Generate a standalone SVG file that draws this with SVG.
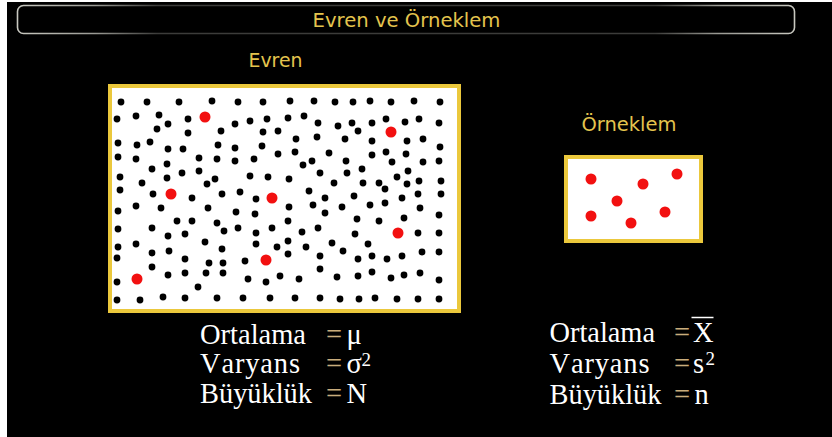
<svg xmlns="http://www.w3.org/2000/svg" xmlns:xlink="http://www.w3.org/1999/xlink" width="832" height="437" viewBox="0 0 832 437">
<style>
.gold{font-family:"DejaVu Sans",sans-serif;font-size:20px;fill:#e4c44e}
.stat{font-family:"Liberation Serif",serif;font-size:28.5px;fill:#ffffff;font-kerning:none}
.eq{font-family:"Liberation Serif",serif;font-size:28.5px;fill:#c9ad7c}
.sup{font-family:"Liberation Serif",serif;font-size:19px;fill:#ffffff}
.box{fill:#ffffff;stroke:#ebc83c;stroke-width:4}
</style>
<defs>
<circle id="bd" cx="0" cy="0" r="3.4" fill="#000000"/>
<circle id="rd" cx="0" cy="0" r="5.5" fill="#f21010"/>
<linearGradient id="fr" gradientUnits="userSpaceOnUse" x1="17" y1="0" x2="795" y2="0">
<stop offset="0" stop-color="#c8c8c0"/>
<stop offset="0.1" stop-color="#9a9a94"/>
<stop offset="0.18" stop-color="#3c3c3a"/>
<stop offset="0.82" stop-color="#3c3c3a"/>
<stop offset="0.9" stop-color="#9a9a94"/>
<stop offset="1" stop-color="#c8c8c0"/>
</linearGradient>
</defs>
<rect x="0" y="0" width="832" height="437" fill="#ffffff"/>
<rect x="7" y="2" width="825" height="435" fill="#000000"/>

<g id="title">
<rect x="17.5" y="5.5" width="777" height="28" rx="6" fill="none" stroke="url(#fr)" stroke-width="1.6"/>
<text class="gold" x="312.5" y="26.5" textLength="188" lengthAdjust="spacingAndGlyphs">Evren ve Örneklem</text>
</g>

<g id="evren-label">
<text class="gold" x="248.5" y="66.5" textLength="54" lengthAdjust="spacingAndGlyphs">Evren</text>
</g>

<g id="evren-box">
<rect class="box" x="110" y="86" width="349" height="225"/>
<g id="evren-dots">
<use href="#bd" x="121" y="102"/><use href="#bd" x="147" y="102"/><use href="#bd" x="179" y="102"/><use href="#bd" x="212" y="101"/><use href="#bd" x="238" y="102"/><use href="#bd" x="263" y="102"/>
<use href="#bd" x="117" y="119"/><use href="#bd" x="136" y="116"/><use href="#bd" x="159" y="115"/><use href="#bd" x="188" y="119"/><use href="#bd" x="168" y="124"/><use href="#bd" x="157" y="129"/><use href="#bd" x="235" y="124"/><use href="#bd" x="250" y="121"/><use href="#bd" x="267" y="119"/><use href="#bd" x="278" y="131"/><use href="#bd" x="221" y="131"/><use href="#bd" x="188" y="133"/><use href="#bd" x="263" y="132"/>
<use href="#bd" x="118" y="143"/><use href="#bd" x="137" y="145"/><use href="#bd" x="150" y="142"/><use href="#bd" x="168" y="149"/><use href="#bd" x="183" y="149"/><use href="#bd" x="218" y="145"/><use href="#bd" x="235" y="148"/><use href="#bd" x="262" y="146"/><use href="#bd" x="278" y="154"/>
<use href="#bd" x="118" y="157"/><use href="#bd" x="136" y="159"/><use href="#bd" x="199" y="158"/><use href="#bd" x="217" y="159"/><use href="#bd" x="235" y="161"/><use href="#bd" x="254" y="159"/>
<use href="#bd" x="152" y="169"/><use href="#bd" x="167" y="164"/><use href="#bd" x="182" y="173"/><use href="#bd" x="199" y="171"/>
<use href="#bd" x="120" y="177"/><use href="#bd" x="142" y="183"/><use href="#bd" x="167" y="178"/><use href="#bd" x="215" y="179"/><use href="#bd" x="207" y="184"/><use href="#bd" x="250" y="176"/><use href="#bd" x="268" y="177"/>
<use href="#bd" x="120" y="190"/><use href="#bd" x="153" y="194"/><use href="#bd" x="192" y="198"/><use href="#bd" x="222" y="194"/><use href="#bd" x="240" y="192"/><use href="#bd" x="256" y="199"/>
<use href="#bd" x="290" y="101"/><use href="#bd" x="314" y="101"/><use href="#bd" x="335" y="102"/><use href="#bd" x="353" y="102"/><use href="#bd" x="370" y="101"/><use href="#bd" x="391" y="102"/><use href="#bd" x="414" y="101"/><use href="#bd" x="440" y="102"/>
<use href="#bd" x="288" y="118"/><use href="#bd" x="304" y="116"/><use href="#bd" x="318" y="123"/><use href="#bd" x="338" y="126"/><use href="#bd" x="352" y="123"/><use href="#bd" x="358" y="131"/><use href="#bd" x="372" y="123"/><use href="#bd" x="386" y="119"/><use href="#bd" x="405" y="122"/><use href="#bd" x="419" y="119"/><use href="#bd" x="439" y="123"/>
<use href="#bd" x="296" y="139"/><use href="#bd" x="317" y="137"/><use href="#bd" x="345" y="139"/><use href="#bd" x="372" y="141"/><use href="#bd" x="407" y="141"/><use href="#bd" x="423" y="139"/><use href="#bd" x="440" y="147"/>
<use href="#bd" x="295" y="152"/><use href="#bd" x="329" y="153"/><use href="#bd" x="372" y="155"/><use href="#bd" x="386" y="152"/><use href="#bd" x="406" y="154"/>
<use href="#bd" x="312" y="161"/><use href="#bd" x="303" y="165"/><use href="#bd" x="346" y="161"/><use href="#bd" x="392" y="162"/><use href="#bd" x="423" y="162"/><use href="#bd" x="439" y="161"/>
<use href="#bd" x="320" y="173"/><use href="#bd" x="347" y="173"/><use href="#bd" x="362" y="169"/><use href="#bd" x="408" y="171"/><use href="#bd" x="397" y="177"/>
<use href="#bd" x="289" y="179"/><use href="#bd" x="334" y="183"/><use href="#bd" x="363" y="183"/><use href="#bd" x="379" y="183"/><use href="#bd" x="385" y="189"/><use href="#bd" x="407" y="184"/><use href="#bd" x="419" y="181"/><use href="#bd" x="441" y="181"/>
<use href="#bd" x="309" y="191"/><use href="#bd" x="325" y="198"/><use href="#bd" x="354" y="196"/><use href="#bd" x="402" y="198"/><use href="#bd" x="441" y="194"/><use href="#bd" x="418" y="194"/>
<use href="#bd" x="118" y="211"/><use href="#bd" x="136" y="206"/><use href="#bd" x="161" y="208"/><use href="#bd" x="208" y="208"/><use href="#bd" x="236" y="212"/><use href="#bd" x="255" y="214"/>
<use href="#bd" x="177" y="221"/><use href="#bd" x="192" y="221"/><use href="#bd" x="217" y="223"/><use href="#bd" x="224" y="231"/><use href="#bd" x="238" y="228"/><use href="#bd" x="272" y="228"/><use href="#bd" x="152" y="228"/><use href="#bd" x="118" y="229"/><use href="#bd" x="168" y="236"/><use href="#bd" x="185" y="234"/><use href="#bd" x="256" y="233"/><use href="#bd" x="205" y="242"/><use href="#bd" x="256" y="244"/>
<use href="#bd" x="118" y="247"/><use href="#bd" x="136" y="244"/><use href="#bd" x="152" y="253"/><use href="#bd" x="169" y="251"/><use href="#bd" x="222" y="249"/><use href="#bd" x="277" y="247"/>
<use href="#bd" x="117" y="258"/><use href="#bd" x="152" y="267"/><use href="#bd" x="185" y="259"/><use href="#bd" x="209" y="263"/><use href="#bd" x="223" y="263"/><use href="#bd" x="245" y="261"/>
<use href="#bd" x="168" y="275"/><use href="#bd" x="185" y="273"/><use href="#bd" x="206" y="273"/><use href="#bd" x="223" y="273"/><use href="#bd" x="117" y="282"/><use href="#bd" x="198" y="287"/><use href="#bd" x="248" y="279"/><use href="#bd" x="266" y="282"/><use href="#bd" x="280" y="276"/>
<use href="#bd" x="117" y="300"/><use href="#bd" x="140" y="300"/><use href="#bd" x="163" y="297"/><use href="#bd" x="185" y="298"/><use href="#bd" x="217" y="298"/><use href="#bd" x="243" y="298"/><use href="#bd" x="270" y="298"/>
<use href="#bd" x="289" y="207"/><use href="#bd" x="313" y="205"/><use href="#bd" x="342" y="207"/><use href="#bd" x="370" y="205"/><use href="#bd" x="385" y="203"/><use href="#bd" x="420" y="208"/><use href="#bd" x="325" y="213"/><use href="#bd" x="357" y="219"/><use href="#bd" x="379" y="221"/><use href="#bd" x="404" y="218"/><use href="#bd" x="439" y="215"/>
<use href="#bd" x="288" y="221"/><use href="#bd" x="302" y="232"/><use href="#bd" x="318" y="228"/><use href="#bd" x="355" y="234"/><use href="#bd" x="418" y="233"/><use href="#bd" x="439" y="233"/>
<use href="#bd" x="288" y="241"/><use href="#bd" x="306" y="247"/><use href="#bd" x="332" y="243"/><use href="#bd" x="343" y="251"/><use href="#bd" x="368" y="244"/><use href="#bd" x="422" y="252"/><use href="#bd" x="439" y="252"/>
<use href="#bd" x="288" y="254"/><use href="#bd" x="320" y="256"/><use href="#bd" x="358" y="259"/><use href="#bd" x="372" y="256"/><use href="#bd" x="387" y="259"/><use href="#bd" x="402" y="256"/>
<use href="#bd" x="320" y="269"/><use href="#bd" x="299" y="279"/><use href="#bd" x="337" y="277"/><use href="#bd" x="358" y="276"/><use href="#bd" x="372" y="272"/><use href="#bd" x="391" y="278"/><use href="#bd" x="404" y="275"/><use href="#bd" x="420" y="273"/><use href="#bd" x="439" y="280"/>
<use href="#bd" x="295" y="298"/><use href="#bd" x="320" y="298"/><use href="#bd" x="340" y="299"/><use href="#bd" x="359" y="299"/><use href="#bd" x="375" y="298"/><use href="#bd" x="397" y="299"/><use href="#bd" x="418" y="299"/><use href="#bd" x="439" y="299"/>
<use href="#rd" x="205" y="117"/><use href="#rd" x="391" y="132"/><use href="#rd" x="171" y="194"/><use href="#rd" x="272" y="198"/><use href="#rd" x="398" y="233"/><use href="#rd" x="266" y="260"/><use href="#rd" x="137" y="279"/>
</g>
</g>

<g id="orneklem-label">
<text class="gold" x="581.5" y="131" textLength="95" lengthAdjust="spacingAndGlyphs">Örneklem</text>
</g>

<g id="orneklem-box">
<rect class="box" x="566" y="157" width="135" height="84"/>
<use href="#rd" x="591" y="179"/><use href="#rd" x="643" y="184"/><use href="#rd" x="677" y="174"/><use href="#rd" x="617" y="201"/><use href="#rd" x="591" y="216"/><use href="#rd" x="631" y="223"/><use href="#rd" x="665" y="212"/>
</g>

<g id="evren-stats">
<text class="stat" x="200" y="344" textLength="106" lengthAdjust="spacingAndGlyphs">Ortalama</text>
<text class="eq" x="326" y="344">=</text>
<text class="stat" x="346.5" y="344">μ</text>
<text class="stat" x="200" y="373" textLength="100" lengthAdjust="spacing">Varyans</text>
<text class="eq" x="326" y="373">=</text>
<text class="stat" x="346.5" y="373">σ</text>
<text class="sup" x="361.5" y="366">2</text>
<text class="stat" x="200" y="403" textLength="112" lengthAdjust="spacingAndGlyphs">Büyüklük</text>
<text class="eq" x="326" y="403">=</text>
<text class="stat" x="346.5" y="403">N</text>
</g>

<g id="orneklem-stats">
<text class="stat" x="549.5" y="342" textLength="105.5" lengthAdjust="spacingAndGlyphs">Ortalama</text>
<text class="eq" x="674" y="342">=</text>
<text class="stat" x="693" y="342">X</text>
<line x1="691.5" y1="317.5" x2="713.5" y2="317.5" stroke="#ffffff" stroke-width="1.5"/>
<text class="stat" x="549.5" y="373" textLength="100" lengthAdjust="spacing">Varyans</text>
<text class="eq" x="674" y="373">=</text>
<text class="stat" x="693" y="373">s</text>
<text class="sup" x="705.5" y="365">2</text>
<text class="stat" x="549.5" y="404" textLength="112" lengthAdjust="spacingAndGlyphs">Büyüklük</text>
<text class="eq" x="674" y="404">=</text>
<text class="stat" x="694.5" y="404">n</text>
</g>
</svg>
